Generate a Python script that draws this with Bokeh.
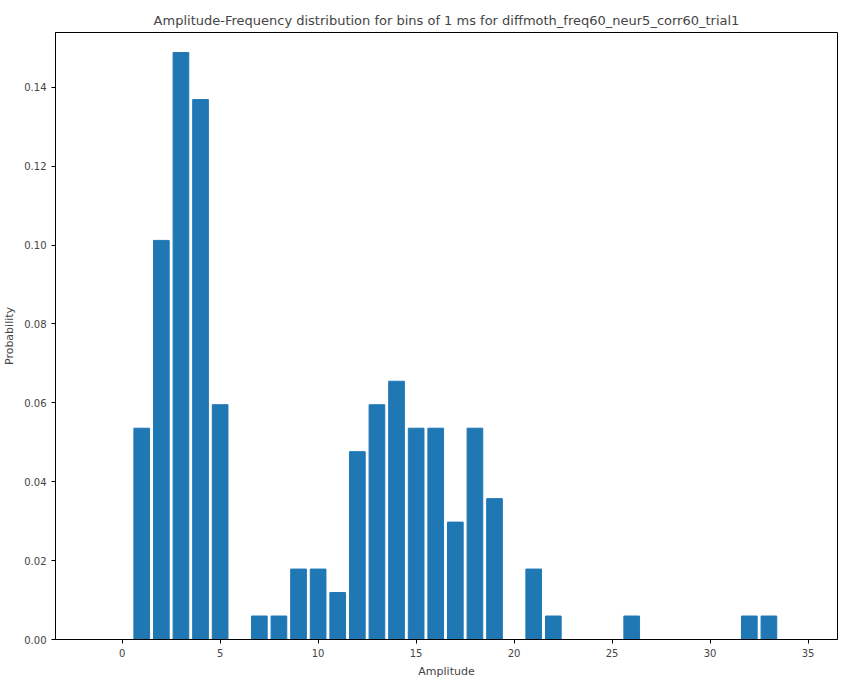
from bokeh.plotting import figure
from bokeh.models import FixedTicker
from bokeh.embed import file_html
from bokeh.resources import INLINE

# amplitude -> counts out of 168 samples
amplitudes = [1, 2, 3, 4, 5, 7, 8, 9, 10, 11, 12, 13, 14, 15, 16, 17, 18, 19,
              21, 22, 26, 32, 33]
counts = [9, 17, 25, 23, 10, 1, 1, 3, 3, 2, 8, 10, 11, 9, 9, 5, 9, 6,
          3, 1, 1, 1, 1]
total = 168
probabilities = [c / total for c in counts]

p = figure(
    title="Amplitude-Frequency distribution for bins of 1 ms for diffmoth_freq60_neur5_corr60_trial1",
    x_axis_label="Amplitude",
    y_axis_label="Probability",
    width=845, height=683,
    x_range=(-3.4, 36.5), y_range=(0, 0.1539),
    output_backend="svg", toolbar_location=None,
    min_border_left=39, min_border_right=8, min_border_top=32, min_border_bottom=44,
)

p.vbar(x=amplitudes, top=probabilities, width=0.8, color="#1f77b4")

p.title.align = "center"
p.title.text_font = "DejaVu Sans"
p.title.text_font_size = "13px"
p.title.text_font_style = "normal"
p.outline_line_color = "black"
p.xgrid.visible = False
p.ygrid.visible = False
p.xaxis.ticker = FixedTicker(ticks=[0, 5, 10, 15, 20, 25, 30, 35])
p.yaxis.ticker = FixedTicker(ticks=[0, 0.02, 0.04, 0.06, 0.08, 0.10, 0.12, 0.14])
p.yaxis.formatter.__class__
from bokeh.models import CustomJSTickFormatter
p.yaxis.formatter = CustomJSTickFormatter(code="return tick.toFixed(2)")
for ax in (p.xaxis, p.yaxis):
    ax.minor_tick_line_color = None
    ax.major_tick_out = 4
    ax.major_tick_in = 0
    ax.major_label_text_font = "DejaVu Sans"
    ax.major_label_text_font_size = "10px"
    ax.axis_label_text_font = "DejaVu Sans"
    ax.axis_label_text_font_size = "11px"
    ax.axis_label_text_font_style = "normal"
    ax.axis_line_color = "black"

open("out.html", "w").write(file_html(p, INLINE))
